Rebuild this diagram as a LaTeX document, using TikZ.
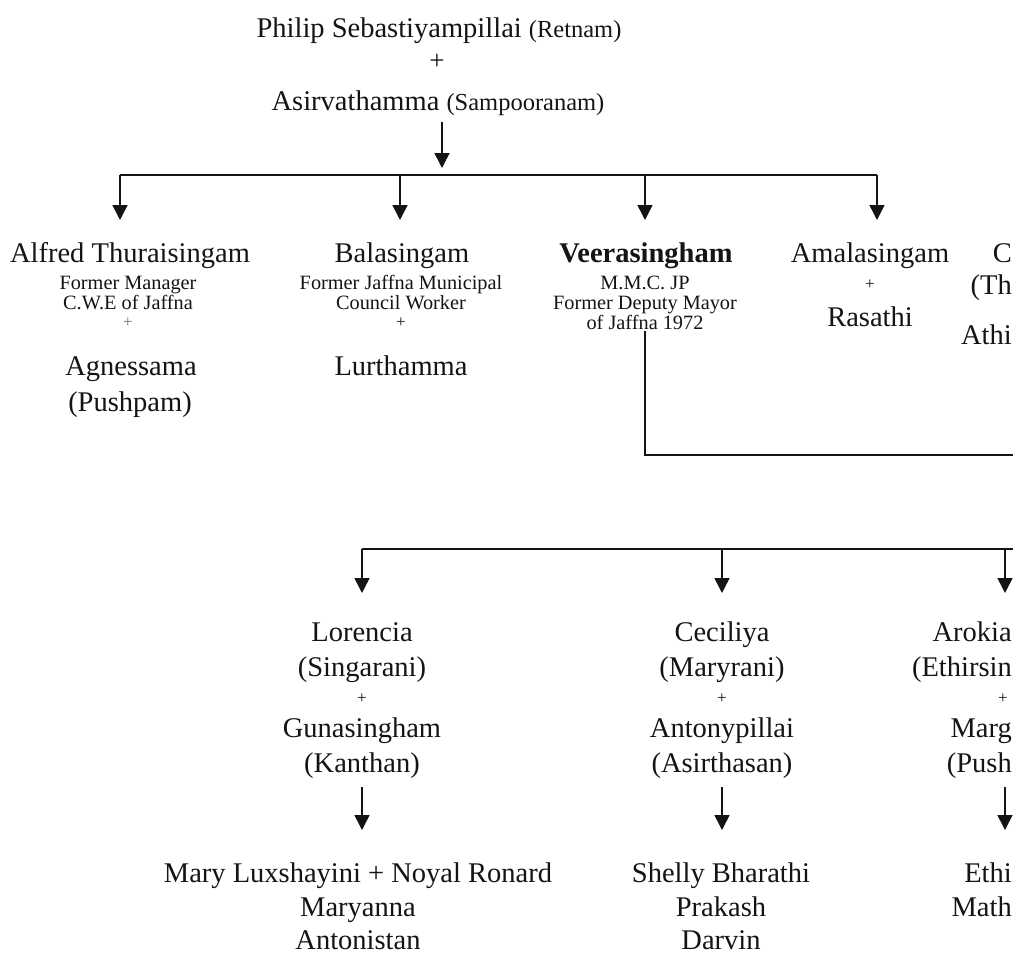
\documentclass[tikz,border=0pt]{standalone}
\usepackage{fontspec}
\setmainfont{Liberation Serif}
\usetikzlibrary{arrows.meta}
\definecolor{ink}{gray}{0.08}
\newcommand\szbig{\fontsize{28.5}{30}\selectfont}
\newcommand\szpar{\fontsize{24.5}{27}\selectfont}
\newcommand\szsub{\fontsize{20.3}{22}\selectfont}
\newcommand\szplus{\fontsize{17}{19}\selectfont}
\newcommand\sztopplus{\fontsize{27}{29}\selectfont}
\begin{document}
\begin{tikzpicture}[x=1pt,y=-1pt,
  txt/.style={inner sep=0pt, anchor=base, font=\szbig, text=ink},
  txte/.style={txt, anchor=base east},
  subt/.style={txt, font=\szsub},
  plus/.style={inner sep=0pt, anchor=center, font=\szplus, text=ink},
  wire/.style={draw=ink, line width=1.5pt},
  arr/.style={wire, -{Triangle[width=15pt,length=15pt]}}]
\useasboundingbox (0,0) rectangle (1013,959);
\fill[white] (0,0) rectangle (1013,959);

% ---- top couple
\node[txt] (p1) at (439,37) {Philip Sebastiyampillai {\szpar(Retnam)}};
\node[plus, font=\sztopplus] (p2) at (437,62) {+};
\node[txt] (p3) at (438,110) {Asirvathamma {\szpar(Sampooranam)}};

\coordinate (a0) at (442,122);
\coordinate (a1) at (442,168);
\draw[arr] (a0) -- (a1);

% ---- first horizontal bar
\coordinate (h1a) at (120,175);
\coordinate (h1b) at (400,175);
\coordinate (h1c) at (645,175);
\coordinate (h1d) at (877,175);
\coordinate (t1a) at (120,220);
\coordinate (t1b) at (400,220);
\coordinate (t1c) at (645,220);
\coordinate (t1d) at (877,220);
\draw[wire] (h1a) -- (h1d);
\draw[arr] (h1a) -- (t1a);
\draw[arr] (h1b) -- (t1b);
\draw[arr] (h1c) -- (t1c);
\draw[arr] (h1d) -- (t1d);

% ---- first generation
\node[txt] (al1) at (130,262) {Alfred Thuraisingam};
\node[subt] (al2) at (128,289) {Former Manager};
\node[subt] (al3) at (128,309) {C.W.E of Jaffna};
\node[plus, text=ink!60] (al4) at (128,323) {+};
\node[txt] (al5) at (131,375) {Agnessama};
\node[txt] (al6) at (130,411) {(Pushpam)};

\node[txt] (ba1) at (402,262) {Balasingam};
\node[subt] (ba2) at (401,289) {Former Jaffna Municipal};
\node[subt] (ba3) at (401,309) {Council Worker};
\node[plus] (ba4) at (401,323) {+};
\node[txt] (ba5) at (401,375) {Lurthamma};

\node[txt, font=\szbig\bfseries] (ve1) at (646,262) {Veerasingham};
\node[subt] (ve2) at (645,289) {M.M.C. JP};
\node[subt] (ve3) at (645,309) {Former Deputy Mayor};
\node[subt] (ve4) at (645,329) {of Jaffna 1972};

\node[txt] (am1) at (870,262) {Amalasingam};
\node[plus] (am2) at (870,285) {+};
\node[txt] (am3) at (870,326) {Rasathi};

\node[txte] (rc1) at (1012,262) {C};
\node[txte] (rc2) at (1012,294) {(Th};
\node[txte] (rc3) at (1012,344) {Athi};

% ---- Veerasingham's descent line
\coordinate (v0) at (645,331);
\coordinate (v1) at (645,455);
\coordinate (v2) at (1013,455);
\draw[wire] (v0) -- (v1) -- (v2);

% ---- second horizontal bar
\coordinate (h2a) at (362,549);
\coordinate (h2b) at (722,549);
\coordinate (h2c) at (1005,549);
\coordinate (h2d) at (1013,549);
\coordinate (t2a) at (362,593);
\coordinate (t2b) at (722,593);
\coordinate (t2c) at (1005,593);
\draw[wire] (h2a) -- (h2d);
\draw[arr] (h2a) -- (t2a);
\draw[arr] (h2b) -- (t2b);
\draw[arr] (h2c) -- (t2c);

% ---- second generation
\node[txt] (lo1) at (362,641) {Lorencia};
\node[txt] (lo2) at (362,676) {(Singarani)};
\node[plus] (lo3) at (362,699) {+};
\node[txt] (lo4) at (362,737) {Gunasingham};
\node[txt] (lo5) at (362,772) {(Kanthan)};
\coordinate (lo6) at (362,787);
\coordinate (lo7) at (362,830);
\draw[arr] (lo6) -- (lo7);
\node[txt] (lo8) at (358,882) {Mary Luxshayini + Noyal Ronard};
\node[txt] (lo9) at (358,916) {Maryanna};
\node[txt] (lo10) at (358,949) {Antonistan};

\node[txt] (ce1) at (722,641) {Ceciliya};
\node[txt] (ce2) at (722,676) {(Maryrani)};
\node[plus] (ce3) at (722,699) {+};
\node[txt] (ce4) at (722,737) {Antonypillai};
\node[txt] (ce5) at (722,772) {(Asirthasan)};
\coordinate (ce6) at (722,787);
\coordinate (ce7) at (722,830);
\draw[arr] (ce6) -- (ce7);
\node[txt] (ce8) at (721,882) {Shelly Bharathi};
\node[txt] (ce9) at (721,916) {Prakash};
\node[txt] (ce10) at (721,949) {Darvin};

\node[txte] (ar1) at (1012,641) {Arokia};
\node[txte] (ar2) at (1012,676) {(Ethirsin};
\node[plus] (ar3) at (1003,699) {+};
\node[txte] (ar4) at (1012,737) {Marg};
\node[txte] (ar5) at (1012,772) {(Push};
\coordinate (ar6) at (1005,787);
\coordinate (ar7) at (1005,830);
\draw[arr] (ar6) -- (ar7);
\node[txte] (ar8) at (1012,882) {Ethi};
\node[txte] (ar9) at (1012,916) {Math};
\end{tikzpicture}
\end{document}
